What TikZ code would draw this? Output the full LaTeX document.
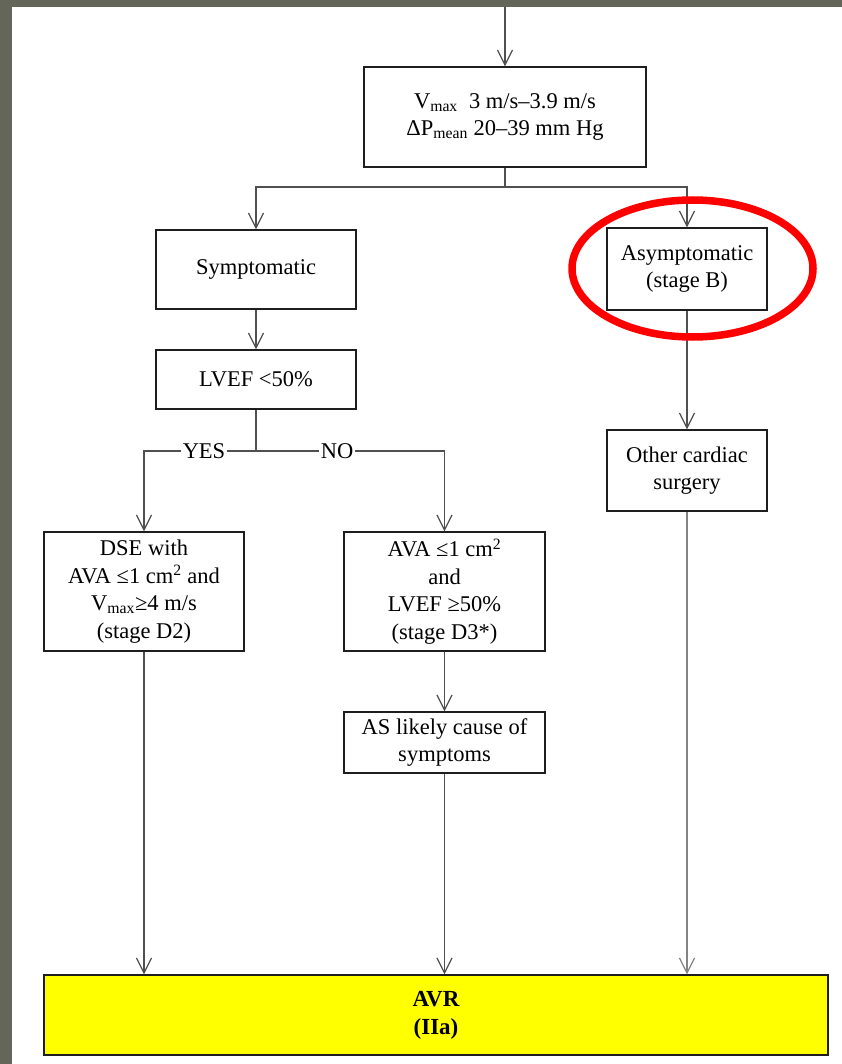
\documentclass[tikz,border=0pt]{standalone}
\usepackage{fontspec}
\setmainfont{Liberation Serif}
\usetikzlibrary{arrows.meta}
\definecolor{frame}{RGB}{100,102,90}
\definecolor{boxline}{RGB}{30,30,30}
\definecolor{wire}{RGB}{80,80,80}
\definecolor{avrfill}{RGB}{255,255,0}
\tikzset{
  x=1pt, y=-1pt,
  stepbox/.style={draw=boxline, line width=1.4pt, fill=white, align=center,
    inner sep=0pt, font=\fontsize{22.5}{27.5}\selectfont},
  wireline/.style={draw=wire, line width=1.2pt},
  flow/.style={wireline, -{Straight Barb[length=15pt,width=15pt,line width=1.2pt]}},
  branchlabel/.style={fill=white, inner sep=1.5pt, font=\fontsize{22.5}{25}\selectfont}
}
\begin{document}
\begin{tikzpicture}
% page frame
\fill[frame] (0,0) rectangle (842,1064);
\fill[white] (12,7) rectangle (842,1064);
\useasboundingbox (0,0) rectangle (842,1064);

% boxes
\node[stepbox, minimum width=282, minimum height=100] (grad) at (505,117)
  {V\textsubscript{max}\ \ 3 m/s–3.9 m/s\\ΔP\textsubscript{mean} 20–39 mm Hg};
\node[stepbox, minimum width=200, minimum height=79] (symp) at (256,269.5) {Symptomatic};
\node[stepbox, minimum width=160, minimum height=82] (asym) at (687,269) {Asymptomatic\\(stage B)};
\node[stepbox, minimum width=200, minimum height=59] (lvef) at (256,379.5) {LVEF <50\%};
\node[stepbox, minimum width=160, minimum height=81] (other) at (687,470.5) {Other cardiac\\surgery};
\node[stepbox, minimum width=200, minimum height=119] (dse) at (144,591.5)
  {DSE with\\AVA ≤1 cm\textsuperscript{2} and\\V\textsubscript{max}≥4 m/s\\(stage D2)};
\node[stepbox, minimum width=201, minimum height=119] (ava) at (444.5,591.5)
  {AVA ≤1 cm\textsuperscript{2}\\and\\LVEF ≥50\%\\(stage D3*)};
\node[stepbox, minimum width=201, minimum height=61] (cause) at (444.5,742.5)
  {AS likely cause of\\symptoms};
\node[stepbox, fill=avrfill, minimum width=784, minimum height=80,
  font=\fontsize{23}{28}\selectfont\bfseries] (avr) at (436,1015) {AVR\\(IIa)};

% connectors
\coordinate (entry) at (505,7);
\coordinate (split) at (505,187);
\coordinate (fork) at (256,451);
\draw[flow] (entry) -- (grad.north);
\draw[wireline] (grad.south) -- (split);
\draw[flow] (split) -| (symp.north);
\draw[flow] (split) -| (asym.north);
\draw[flow] (symp.south) -- (lvef.north);
\draw[wireline] (lvef.south) -- (fork);
\draw[flow] (fork) -| (dse.north);
\draw[flow] (fork) -| (ava.north);
\node[branchlabel] (yes) at (204,451) {YES};
\node[branchlabel] (no) at (337,451) {NO};
\draw[flow] (asym.south) -- (other.north);
\draw[flow] (ava.south) -- (cause.north);
\draw[flow] (dse.south) -- (dse.south |- avr.north);
\draw[flow] (cause.south) -- (cause.south |- avr.north);
\draw[flow, draw=wire!70] (other.south) -- (other.south |- avr.north);

% highlight ring
\draw[red, line width=7.5pt] (692.5,268.5) ellipse [x radius=120.5, y radius=68.5];
\end{tikzpicture}
\end{document}
